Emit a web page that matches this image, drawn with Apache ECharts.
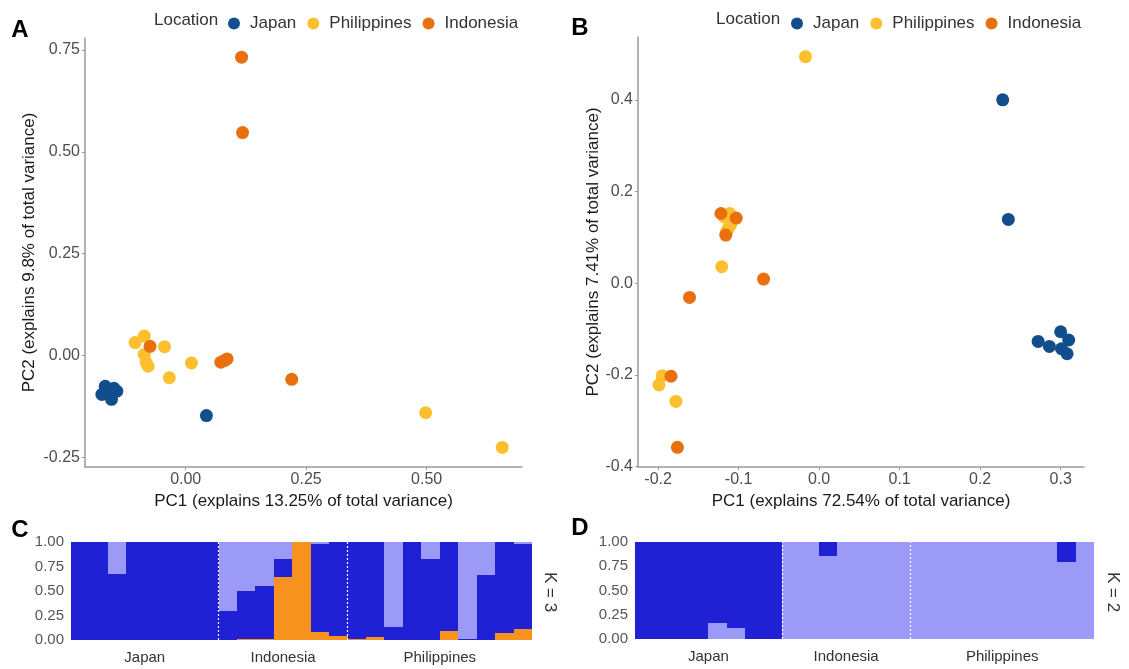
<!DOCTYPE html>
<html>
<head>
<meta charset="utf-8">
<script src="https://cdn.jsdelivr.net/npm/echarts@6/dist/echarts.min.js"></script>
<style>
html,body{margin:0;padding:0;background:#fff;}
#chart{width:1129px;height:669px;}
</style>
</head>
<body>
<div id="chart"></div>
<script>
// ---------- Data: PCA panel A (PC1, PC2) ----------
const japanA = [[-0.167,-0.075],[-0.149,-0.080],[-0.174,-0.095],[-0.156,-0.091],[-0.154,-0.107],[-0.143,-0.087],[-0.163,-0.083],[0.043,-0.147]];
const philA = [[-0.105,0.032],[-0.086,0.048],[-0.044,0.022],[-0.086,0.003],[-0.082,-0.017],[-0.078,-0.026],[0.012,-0.018],[-0.034,-0.054],[0.498,-0.140],[0.657,-0.225]];
const indoA = [[0.116,0.732],[0.118,0.547],[-0.074,0.023],[0.073,-0.016],[0.086,-0.008],[0.080,-0.012],[0.220,-0.058]];
// ---------- Data: PCA panel B ----------
const japanB = [[0.228,0.400],[0.235,0.139],[0.300,-0.106],[0.272,-0.127],[0.286,-0.138],[0.301,-0.143],[0.310,-0.124],[0.308,-0.154]];
const philB = [[-0.017,0.494],[-0.111,0.152],[-0.113,0.119],[-0.110,0.127],[-0.115,0.112],[-0.118,0.145],[-0.121,0.036],[-0.195,-0.202],[-0.199,-0.222],[-0.178,-0.258]];
const indoB = [[-0.122,0.152],[-0.103,0.142],[-0.116,0.105],[-0.069,0.009],[-0.161,-0.031],[-0.184,-0.203],[-0.176,-0.358]];
// ---------- Tick labels ----------
const ticksAx = [0, 0.25, 0.5];
const ticksAy = [-0.25, 0, 0.25, 0.5, 0.75];
const ticksBx = [-0.2, -0.1, 0, 0.1, 0.2, 0.3];
const ticksBy = [-0.4, -0.2, 0, 0.2, 0.4];
// ---------- Data: structure plots ----------
const groupsC = ['Japan','Indonesia','Philippines'];
const groupSizes = [8, 7, 10];
// C (K = 3): bottom orange, middle dark blue, top light blue
const orangeC = [0,0,0,0,0,0,0,0, 0,0.01,0.01,0.64,1.0,0.08,0.04, 0.01,0.03,0,0,0,0.095,0,0,0.075,0.11];
const darkC   = [1,1,0.67,1,1,1,1,1, 0.30,0.495,0.536,0.19,0,0.896,0.96, 0.99,0.97,0.137,1,0.83,0.905,0.01,0.665,0.925,0.866];
const lightC  = [0,0,0.33,0,0,0,0,0, 0.70,0.495,0.454,0.17,0,0.024,0, 0,0,0.863,0,0.17,0,0.99,0.335,0,0.024];
// D (K = 2): bottom light blue, top dark blue
const lightD = [0,0,0,0,0.16,0.11,0,0, 1,0.995,0.86,1,1,1,1, 1,1,1,1,1,1,1,1,0.79,1];
const darkD  = [1,1,1,1,0.84,0.89,1,1, 0,0.005,0.14,0,0,0,0, 0,0,0,0,0,0,0,0,0.21,0];
const structTicks = [0, 0.25, 0.5, 0.75, 1];

const FONT = '"Liberation Sans", Arial, sans-serif';
const colJapan = '#134E8C', colPhil = '#FDBF2D', colIndo = '#E9700F';
const colDark = '#2020D4', colLight = '#9B9BF7', colOrange = '#F7921E';

const ids = [];
let n = 0; groupSizes.forEach(s => { for (let i = 0; i < s; i++) ids.push(String(++n)); });
const bounds = []; let acc = 0; groupSizes.forEach((s, i) => { if (i > 0) bounds.push(acc); acc += s; });
const centers = []; acc = 0; groupSizes.forEach(s => { centers.push(acc + s / 2); acc += s; });
const total = acc;

function pcaX(grid, min, max, ticks, dec, name) {
  return {
    type: 'value', gridIndex: grid, min: min, max: max, position: 'bottom',
    name: name, nameLocation: 'middle', nameGap: 19,
    nameTextStyle: { color: '#1a1a1a', fontSize: 17, fontFamily: FONT },
    axisLine: { show: true, onZero: false, lineStyle: { color: '#9a9a9a', width: 1.5 } },
    axisTick: { show: true, length: 3, customValues: ticks, lineStyle: { color: '#9a9a9a' } },
    axisLabel: { customValues: ticks, margin: 5, color: '#4d4d4d', fontSize: 16, fontFamily: FONT,
      formatter: v => Number(v).toFixed(dec) },
    splitLine: { show: false }
  };
}
function pcaY(grid, min, max, ticks, dec, name, gap) {
  return {
    type: 'value', gridIndex: grid, min: min, max: max,
    name: name, nameLocation: 'middle', nameGap: gap,
    nameTextStyle: { color: '#1a1a1a', fontSize: 17, fontFamily: FONT },
    axisLine: { show: true, onZero: false, lineStyle: { color: '#9a9a9a', width: 1.5 } },
    axisTick: { show: true, length: 3, customValues: ticks, lineStyle: { color: '#9a9a9a' } },
    axisLabel: { customValues: ticks, margin: 5, color: '#4d4d4d', fontSize: 16, fontFamily: FONT,
      formatter: v => Number(v).toFixed(dec) },
    splitLine: { show: false }
  };
}
function catX(grid) {
  return { type: 'category', gridIndex: grid, data: ids, position: 'bottom', boundaryGap: true,
    axisLine: { show: false }, axisTick: { show: false }, axisLabel: { show: false }, splitLine: { show: false } };
}
function groupX(grid) {
  return { type: 'value', gridIndex: grid, min: 0, max: total, position: 'bottom',
    axisLine: { show: false }, axisTick: { show: false }, splitLine: { show: false },
    axisLabel: { customValues: centers, margin: 10, color: '#333', fontSize: 15, fontFamily: FONT,
      formatter: v => { const i = centers.indexOf(v); return i >= 0 ? groupsC[i] : ''; } } };
}
function structY(grid) {
  return { type: 'value', gridIndex: grid, min: 0, max: 1,
    axisLine: { show: false }, axisTick: { show: false }, splitLine: { show: false },
    axisLabel: { customValues: structTicks, margin: 7, color: '#555', fontSize: 15, fontFamily: FONT,
      formatter: v => Number(v).toFixed(2) } };
}
function scat(name, data, color, xi, yi) {
  return { type: 'scatter', name: name, xAxisIndex: xi, yAxisIndex: yi, data: data,
    symbol: 'circle', symbolSize: 13, itemStyle: { color: color, opacity: 1 } };
}
// Stacked admixture layers drawn as rectangles positioned by the category/value axes
function stackLayers(layers, colors, xi, yi, prefix) {
  const base = layers[0].map(() => 0);
  return layers.map((layer, k) => {
    const rows = [];
    layer.forEach((v, i) => {
      if (v > 0) rows.push([i, base[i], base[i] + v]);
      base[i] += v;
    });
    const color = colors[k];
    return {
      type: 'custom', name: prefix + k, xAxisIndex: xi, yAxisIndex: yi, silent: true,
      encode: { x: 0, y: [1, 2] }, data: rows,
      renderItem: function (params, api) {
        const i = api.value(0), lo = api.value(1), hi = Math.min(api.value(2), 1);
        const p0 = api.coord([i, lo]), p1 = api.coord([i, hi]);
        const bw = api.size([1, 0])[0];
        const x0 = Math.round(p0[0] - bw / 2), x1 = Math.round(p0[0] + bw / 2);
        const yb = Math.round(p0[1]), yt = Math.round(p1[1]);
        return { type: 'rect', shape: { x: x0, y: yt, width: x1 - x0, height: Math.max(yb - yt, 0) },
          style: { fill: color } };
      }
    };
  });
}
function separators(xi, yi) {
  return { type: 'scatter', name: 'sep' + xi, xAxisIndex: xi, yAxisIndex: yi, data: [[0, 0]], symbolSize: 0, z: 10,
    markLine: { silent: true, symbol: ['none', 'none'], label: { show: false },
      lineStyle: { color: '#ffffff', type: [2, 2], width: 1.2 },
      data: bounds.map(b => ({ xAxis: b })) } };
}

const chart = echarts.init(document.getElementById('chart'), null, { renderer: 'canvas' });
const legendBase = { data: ['Japan', 'Philippines', 'Indonesia'], icon: 'circle', itemWidth: 22, itemHeight: 12,
  itemGap: 11, selectedMode: false, top: 10, orient: 'horizontal',
  textStyle: { color: '#333', fontSize: 17, fontFamily: FONT } };

chart.setOption({
  animation: false,
  backgroundColor: '#ffffff',
  legend: [Object.assign({ left: 223 }, legendBase), Object.assign({ left: 786 }, legendBase)],
  grid: [
    { left: 85, top: 38, width: 437, height: 429 },
    { left: 638, top: 37, width: 446, height: 430 },
    { left: 71, top: 542, width: 461, height: 98 },
    { left: 635, top: 542, width: 459, height: 97 }
  ],
  xAxis: [
    pcaX(0, -0.209, 0.698, ticksAx, 2, 'PC1 (explains 13.25% of total variance)'),
    pcaX(1, -0.225, 0.329, ticksBx, 1, 'PC1 (explains 72.54% of total variance)'),
    catX(2), groupX(2), catX(3), groupX(3)
  ],
  yAxis: [
    pcaY(0, -0.273, 0.779, ticksAy, 2, 'PC2 (explains 9.8% of total variance)', 47),
    pcaY(1, -0.401, 0.537, ticksBy, 1, 'PC2 (explains 7.41% of total variance)', 30),
    structY(2), structY(3)
  ],
  series: [
    scat('Japan', japanA, colJapan, 0, 0),
    scat('Philippines', philA, colPhil, 0, 0),
    scat('Indonesia', indoA, colIndo, 0, 0),
    scat('Japan', japanB, colJapan, 1, 1),
    scat('Philippines', philB, colPhil, 1, 1),
    scat('Indonesia', indoB, colIndo, 1, 1)
  ].concat(
    stackLayers([orangeC, darkC, lightC], [colOrange, colDark, colLight], 2, 2, 'C'),
    stackLayers([lightD, darkD], [colLight, colDark], 4, 3, 'D'),
    [separators(3, 2), separators(5, 3)]
  ),
  graphic: [
    { type: 'text', x: 20, y: 30, style: { text: 'A', font: 'bold 24px ' + FONT, fill: '#000', textAlign: 'center', textVerticalAlign: 'middle' } },
    { type: 'text', x: 580, y: 28, style: { text: 'B', font: 'bold 24px ' + FONT, fill: '#000', textAlign: 'center', textVerticalAlign: 'middle' } },
    { type: 'text', x: 20, y: 530, style: { text: 'C', font: 'bold 24px ' + FONT, fill: '#000', textAlign: 'center', textVerticalAlign: 'middle' } },
    { type: 'text', x: 580, y: 528, style: { text: 'D', font: 'bold 24px ' + FONT, fill: '#000', textAlign: 'center', textVerticalAlign: 'middle' } },
    { type: 'text', x: 154, y: 20, style: { text: 'Location', font: '17px ' + FONT, fill: '#333', textAlign: 'left', textVerticalAlign: 'middle' } },
    { type: 'text', x: 716, y: 19, style: { text: 'Location', font: '17px ' + FONT, fill: '#333', textAlign: 'left', textVerticalAlign: 'middle' } },
    { type: 'text', x: 550, y: 592, rotation: -Math.PI / 2, style: { text: 'K = 3', font: '17px ' + FONT, fill: '#333', textAlign: 'center', textVerticalAlign: 'middle' } },
    { type: 'text', x: 1113, y: 592, rotation: -Math.PI / 2, style: { text: 'K = 2', font: '17px ' + FONT, fill: '#333', textAlign: 'center', textVerticalAlign: 'middle' } }
  ]
});
</script>
</body>
</html>
